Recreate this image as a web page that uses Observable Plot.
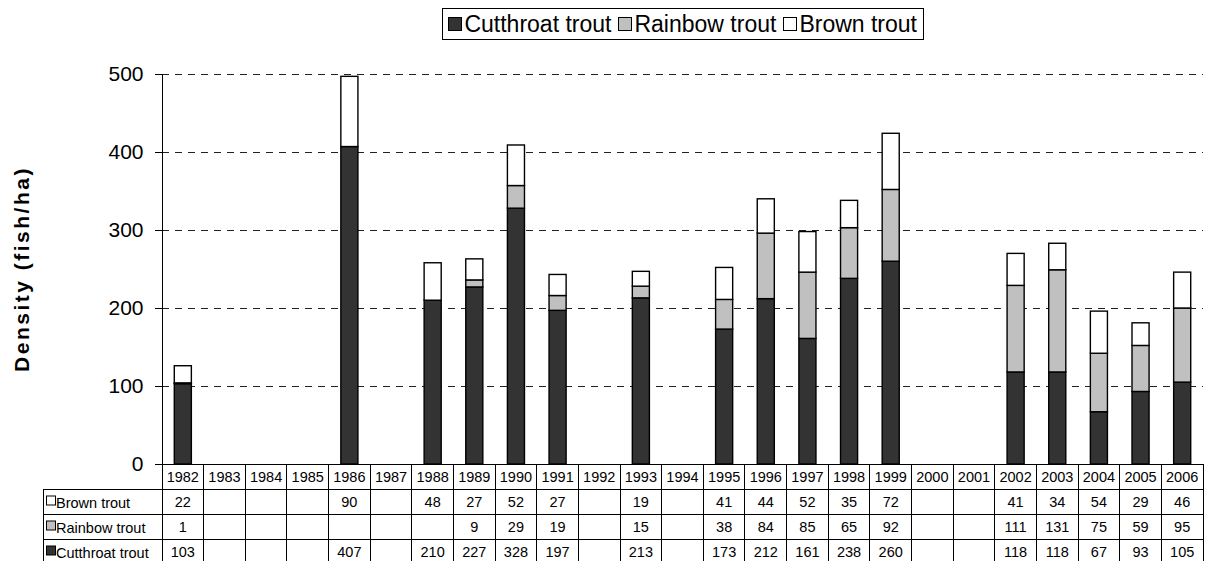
<!DOCTYPE html>
<html>
<head>
<meta charset="utf-8">
<script src="https://cdn.jsdelivr.net/npm/d3@7"></script>
<script src="https://cdn.jsdelivr.net/npm/@observablehq/plot@0.6"></script>
<style>
  html, body { margin: 0; padding: 0; background: #fff; overflow: hidden; }
  body { font-family: "Liberation Sans", Arial, sans-serif; width: 1205px; }
  #top { position: relative; height: 50px; }
  #legend {
    position: absolute; right: 281px; top: 8px; height: 32px;
    box-sizing: border-box; border: 1px solid #000;
    display: flex; align-items: center; padding: 0 6px 0 5px;
    font-size: 23px; color: #000; white-space: nowrap;
  }
  #legend .item { display: flex; align-items: center; margin-right: 7px; }
  #legend .item:last-child { margin-right: 0; }
  #legend .sw { width: 14px; height: 14px; box-sizing: border-box; border: 1px solid #000; margin-right: 2px; }
  #chart svg { display: block; }
</style>
</head>
<body>
<div id="top"><div id="legend"></div></div>
<div id="chart"></div>
<script>
// Sampling years (one column per year, empty where no survey)
const years = ["1982","1983","1984","1985","1986","1987","1988","1989","1990","1991","1992","1993","1994",
               "1995","1996","1997","1998","1999","2000","2001","2002","2003","2004","2005","2006"];

// Trout densities (fish/ha); null = not sampled / not present
const cutthroat = [103,null,null,null,407,null,210,227,328,197,null,213,null,173,212,161,238,260,null,null,118,118,67,93,105];
const rainbow   = [1,null,null,null,null,null,null,9,29,19,null,15,null,38,84,85,65,92,null,null,111,131,75,59,95];
const brown     = [22,null,null,null,90,null,48,27,52,27,null,19,null,41,44,52,35,72,null,null,41,34,54,29,46];

// Species, bottom of the stack first
const species = ["Cutthroat trout", "Rainbow trout", "Brown trout"];
const speciesColors = ["#333333", "#c0c0c0", "#ffffff"];
const yTicks = [0, 100, 200, 300, 400, 500];
const yLabel = "Density (fish/ha)";

const seriesBySpecies = {"Cutthroat trout": cutthroat, "Rainbow trout": rainbow, "Brown trout": brown};

// Long table for the stacked bars
const rows = [];
for (const s of species) {
  seriesBySpecies[s].forEach((v, i) => { if (v != null) rows.push({year: years[i], species: s, value: v}); });
}

// Legend above the chart
const legend = d3.select("#legend");
species.forEach((s, i) => {
  const it = legend.append("div").attr("class", "item");
  it.append("div").attr("class", "sw").style("background", speciesColors[i]);
  it.append("span").text(s);
});

// Layout constants
const W = 1205, marginLeft = 162, marginRight = 2;
const colStep = (W - marginLeft - marginRight) / years.length;
const barInset = colStep * 0.295;

// Rotated y-axis title, centred on the plot frame
function yTitle(index, scales, values, dims) {
  const cy = (dims.marginTop + dims.height - dims.marginBottom) / 2;
  return d3.create("svg:text")
    .attr("transform", `translate(29,${cy}) rotate(-90)`)
    .attr("text-anchor", "middle")
    .attr("font-size", 21).attr("font-weight", "bold")
    .attr("letter-spacing", "2.5px")
    .attr("fill", "#000")
    .text(yLabel).node();
}

// Data table drawn under the plot, one column per x band
const tableOrder = ["Brown trout", "Rainbow trout", "Cutthroat trout"];
function dataTable(index, scales, values, dims) {
  const x = scales.x;
  const bw = x.bandwidth ? x.bandwidth() : colStep;
  const right = x(years[years.length - 1]) + bw;
  const top = dims.height - dims.marginBottom;
  const rowH = 25;
  const tableLeft = 43;
  const fs = 14.5;
  const g = d3.create("svg:g")
    .attr("font-family", "Liberation Sans, Arial, sans-serif")
    .attr("fill", "#000");
  const lines = g.append("g").attr("stroke", "#000").attr("stroke-width", 1).attr("shape-rendering", "crispEdges");
  const bottom = top + rowH * 4;
  years.forEach(y => {
    lines.append("line").attr("x1", x(y)).attr("x2", x(y)).attr("y1", top).attr("y2", bottom);
  });
  lines.append("line").attr("x1", right).attr("x2", right).attr("y1", top).attr("y2", bottom);
  lines.append("line").attr("x1", tableLeft).attr("x2", tableLeft).attr("y1", top + rowH).attr("y2", bottom);
  for (let r = 1; r <= 4; r++) {
    lines.append("line").attr("x1", tableLeft).attr("x2", right).attr("y1", top + r * rowH).attr("y2", top + r * rowH);
  }
  // year header
  years.forEach(y => {
    g.append("text").attr("x", x(y) + bw / 2).attr("y", top + rowH / 2).attr("dy", "0.36em")
      .attr("text-anchor", "middle").attr("font-size", fs).text(y);
  });
  // value rows
  tableOrder.forEach((s, r) => {
    const cy = top + rowH * (r + 1) + rowH / 2;
    const color = speciesColors[species.indexOf(s)];
    g.append("rect").attr("x", tableLeft + 3.5).attr("y", cy - 5.5).attr("width", 9).attr("height", 9)
      .attr("fill", color).attr("stroke", "#000").attr("stroke-width", 1);
    g.append("text").attr("x", tableLeft + 13).attr("y", cy + 1).attr("dy", "0.36em")
      .attr("text-anchor", "start").attr("font-size", fs).text(s);
    seriesBySpecies[s].forEach((v, i) => {
      if (v == null) return;
      g.append("text").attr("x", x(years[i]) + bw / 2).attr("y", cy).attr("dy", "0.36em")
        .attr("text-anchor", "middle").attr("font-size", fs).text(v);
    });
  });
  return g.node();
}

const chart = Plot.plot({
  width: W,
  height: 516,
  marginTop: 24,
  marginBottom: 102,
  marginLeft,
  marginRight,
  style: {fontFamily: "Liberation Sans, Arial, sans-serif", background: "#fff", color: "#000"},
  x: {type: "band", domain: years, padding: 0, round: false, axis: null},
  y: {domain: [0, 500]},
  color: {domain: species, range: speciesColors},
  marks: [
    Plot.ruleY(yTicks.filter(d => d > 0), {stroke: "#222", strokeWidth: 1, strokeDasharray: "7,6"}),
    Plot.barY(rows, {x: "year", y: "value", fill: "species", order: species,
                     insetLeft: barInset, insetRight: barInset, stroke: "#000", strokeWidth: 1.4}),
    Plot.ruleY([0], {stroke: "#000", strokeWidth: 1}),
    Plot.frame({anchor: "left", stroke: "#000", strokeWidth: 1}),
    Plot.axisY({ticks: yTicks, tickSize: 7, tickPadding: 12, fontSize: 21, label: null}),
    yTitle,
    dataTable
  ]
});
document.getElementById("chart").appendChild(chart);
</script>
</body>
</html>
